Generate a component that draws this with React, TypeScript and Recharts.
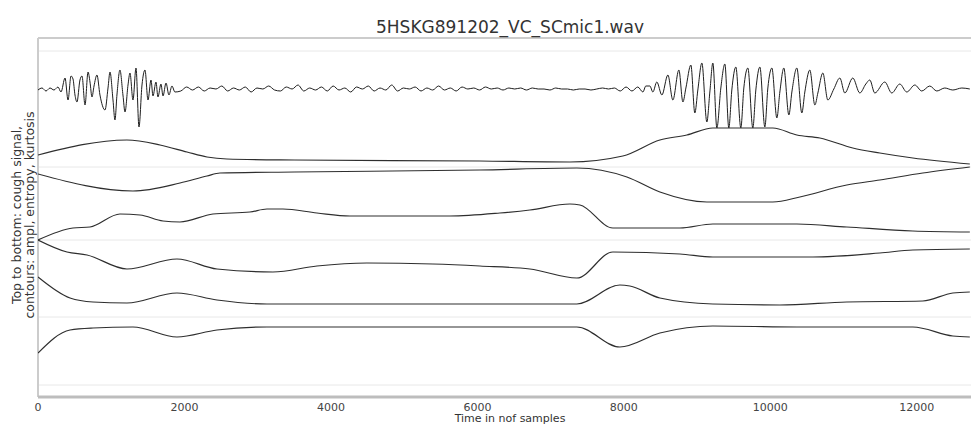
import React from "react";
import { LineChart, Line, XAxis, YAxis, CartesianGrid, ReferenceLine } from "recharts";

// x: time in number of samples, y: stacked display level (signal on top, contours below)
const xTicks = [0, 2000, 4000, 6000, 8000, 10000, 12000];
const gridLevels = [1.2, 8.0, 15.7, 23.0, 34.6];

const coughSignal: [number, number][] = [
  [0, 30.7], [55, 30.9], [109, 30.6], [164, 30.9], [218, 30.7], [273, 31.0], [314, 30.5],
  [369, 31.9], [410, 29.7], [451, 32.1], [478, 31.8], [505, 30.2], [532, 29.5], [573, 31.7],
  [601, 32.1], [642, 29.2], [683, 32.5], [710, 31.5], [737, 30.0], [765, 31.1], [805, 32.2],
  [846, 30.2], [915, 28.7], [956, 30.9], [983, 32.5], [1024, 29.7], [1051, 27.7], [1078, 30.2],
  [1119, 32.7], [1160, 30.2], [1188, 28.5], [1229, 31.2], [1256, 32.4], [1297, 29.7], [1338, 32.9],
  [1379, 27.0], [1420, 31.2], [1461, 32.7], [1502, 29.7], [1543, 31.7], [1570, 30.1], [1611, 31.5],
  [1638, 30.0], [1679, 31.3], [1707, 30.1], [1748, 31.4], [1788, 30.2], [1829, 31.1], [1870, 30.5],
  [1950, 30.6], [2030, 31.0], [2110, 30.7], [2190, 31.0], [2270, 30.6], [2350, 30.9], [2430, 30.8],
  [2510, 31.1], [2590, 30.6], [2670, 30.9], [2750, 30.7], [2830, 31.0], [2910, 30.5], [2990, 30.9],
  [3070, 30.8], [3150, 31.1], [3230, 30.7], [3310, 30.6], [3390, 31.0], [3470, 30.8], [3550, 31.2],
  [3630, 30.6], [3710, 30.9], [3790, 30.7], [3870, 31.0], [3950, 30.6], [4030, 31.1], [4110, 30.7],
  [4190, 30.9], [4270, 30.5], [4350, 31.0], [4430, 30.8], [4510, 31.1], [4590, 30.6], [4670, 30.9],
  [4750, 30.7], [4830, 31.2], [4910, 30.6], [4990, 30.9], [5070, 30.8], [5150, 31.0], [5230, 30.6],
  [5310, 30.9], [5390, 30.7], [5470, 31.1], [5550, 30.7], [5630, 30.9], [5710, 30.6], [5790, 31.0],
  [5870, 30.8], [5950, 30.9], [6030, 30.7], [6110, 31.0], [6190, 30.8], [6270, 30.9], [6350, 30.7],
  [6430, 30.9], [6510, 30.8], [6590, 30.9], [6670, 30.7], [6750, 30.9], [6830, 30.8], [6910, 30.8],
  [6990, 30.7], [7070, 30.9], [7150, 30.8], [7230, 30.8], [7310, 30.7], [7390, 30.8], [7470, 30.8],
  [7550, 30.7], [7630, 30.8], [7710, 30.9], [7790, 30.8], [7870, 30.9], [7950, 30.6], [8030, 31.0],
  [8110, 30.6], [8190, 31.0], [8260, 30.5], [8300, 31.1],
  [8355, 31.1], [8396, 30.5], [8450, 31.5], [8519, 30.2], [8601, 32.2], [8669, 29.7], [8751, 32.7],
  [8806, 29.5], [8847, 30.9], [8915, 33.2], [8969, 28.4], [9010, 30.7], [9065, 33.4], [9133, 27.5],
  [9174, 30.5], [9215, 33.4], [9270, 26.9], [9324, 30.9], [9379, 33.3], [9433, 26.9], [9474, 30.7],
  [9529, 33.0], [9597, 26.9], [9638, 30.9], [9693, 32.9], [9761, 26.9], [9802, 30.7], [9857, 33.0],
  [9925, 27.0], [9966, 30.9], [10021, 32.9], [10089, 27.9], [10130, 30.5], [10184, 32.9], [10253, 28.2],
  [10294, 30.5], [10362, 32.9], [10430, 28.4], [10471, 30.5], [10539, 32.7], [10608, 29.2], [10649, 30.4],
  [10717, 32.4], [10785, 29.7], [10867, 30.8], [10949, 31.9], [11017, 30.4], [11126, 31.9], [11222, 30.4],
  [11304, 31.3], [11358, 31.7], [11426, 30.4], [11563, 31.5], [11658, 30.4], [11768, 31.3], [11863, 30.5],
  [11973, 31.2], [12068, 30.6], [12177, 31.1], [12273, 30.6], [12382, 30.9], [12492, 30.7], [12615, 30.9],
  [12724, 30.8],
];

const amplUpper: [number, number][] = [
  [0, 24.2], [1215, 25.7], [1666, 25.2], [2034, 24.5], [2307, 24.0], [2580, 23.8], [3500, 23.7],
  [6034, 23.6], [7263, 23.5], [7986, 24.1], [8492, 25.7], [8860, 26.2], [9215, 26.9], [10034, 26.9],
  [10362, 26.2], [10676, 25.9], [11126, 24.9], [11495, 24.4], [11946, 23.9], [12724, 23.3],
];
const amplLower: [number, number][] = [
  [0, 22.3], [1297, 20.6], [1939, 21.4], [2307, 22.1], [2485, 22.4], [3500, 22.5], [6034, 22.7],
  [7358, 22.9], [8041, 22.0], [8492, 20.5], [9133, 19.5], [10034, 19.5], [10403, 20.0], [11044, 21.2],
  [11495, 21.7], [12082, 22.4], [12724, 23.0],
];
const entropyUpper: [number, number][] = [
  [0, 15.7], [478, 16.9], [710, 17.0], [1119, 18.3], [1393, 18.2], [1707, 17.6], [1939, 17.5],
  [2389, 18.3], [2894, 18.5], [3126, 18.8], [3345, 18.8], [3809, 18.4], [4259, 18.1], [5625, 18.1],
  [6307, 18.4], [6717, 18.7], [7263, 19.3], [7400, 19.2], [7850, 16.9], [8765, 16.9], [9215, 17.3],
  [10362, 17.3], [11044, 17.0], [11946, 16.6], [12724, 16.5],
];
const entropyLower: [number, number][] = [
  [0, 15.7], [396, 14.5], [669, 14.2], [1215, 12.8], [1898, 13.8], [2444, 12.8], [3208, 12.5],
  [3809, 13.1], [4491, 13.4], [5393, 13.3], [6034, 13.1], [6717, 12.8], [7358, 11.9], [7850, 14.5],
  [8765, 14.3], [9215, 14.0], [10580, 14.0], [11495, 14.4], [11946, 14.7], [12724, 14.8],
];
const kurtosisUpper: [number, number][] = [
  [0, 12.0], [437, 9.9], [751, 9.5], [1215, 9.4], [1898, 10.4], [2444, 9.7], [3126, 9.3],
  [7358, 9.3], [7945, 11.2], [8082, 11.1], [8492, 9.9], [9215, 9.3], [10130, 9.2], [11044, 9.5],
  [12082, 9.6], [12492, 10.4], [12724, 10.5],
];
const kurtosisLower: [number, number][] = [
  [0, 4.4], [437, 6.7], [751, 6.9], [1297, 7.0], [1898, 6.0], [2444, 6.7], [3126, 7.0],
  [7358, 7.0], [7945, 5.0], [8492, 6.4], [9215, 7.1], [10362, 7.0], [11946, 7.0], [12492, 6.1],
  [12724, 6.0],
];

const contours = [amplUpper, amplLower, entropyUpper, entropyLower, kurtosisUpper, kurtosisLower];

const rows = (pts: [number, number][]) => pts.map(([t, v]) => ({ t, v }));

const FONT = "'DejaVu Sans', 'Liberation Sans', sans-serif";

export default function App() {
  return (
    <div
      style={{
        position: "absolute",
        left: 0,
        top: 0,
        width: 971,
        height: 426,
        background: "#fff",
        overflow: "hidden",
        fontFamily: FONT,
      }}
    >
      <LineChart
        width={971}
        height={426}
        margin={{ top: 38, right: 0, bottom: 0, left: 38 }}
        style={{ fontFamily: FONT }}
      >
        <CartesianGrid vertical={false} horizontalValues={gridLevels} stroke="#e8e8e8" />
        <XAxis
          dataKey="t"
          type="number"
          domain={[0, 12740]}
          ticks={xTicks}
          height={29}
          tickLine={false}
          tickSize={4}
          axisLine={{ stroke: "#bdbdbd", strokeWidth: 3 }}
          tick={{ fontSize: 11, fill: "#444" }}
          allowDataOverflow
        />
        <YAxis type="number" domain={[0, 35.9]} hide allowDataOverflow />
        <ReferenceLine y={35.9} stroke="#cccccc" strokeWidth={2} />
        <ReferenceLine x={0} stroke="#cccccc" strokeWidth={2} />
        <Line
          data={rows(coughSignal)}
          dataKey="v"
          type="monotone"
          stroke="#1e1e1e"
          strokeWidth={1}
          dot={false}
          isAnimationActive={false}
        />
        {contours.map((c, i) => (
          <Line
            key={i}
            data={rows(c)}
            dataKey="v"
            type="monotone"
            stroke="#2e2e2e"
            strokeWidth={1.2}
            dot={false}
            isAnimationActive={false}
          />
        ))}
      </LineChart>
      <svg
        width={971}
        height={426}
        style={{ position: "absolute", left: 0, top: 0, pointerEvents: "none" }}
      >
        <text x={510} y={33} textAnchor="middle" fontSize={17} fill="#333" fontFamily={FONT}>
          5HSKG891202_VC_SCmic1.wav
        </text>
        <text x={510} y={422} textAnchor="middle" fontSize={11} fill="#333" fontFamily={FONT}>
          Time in nof samples
        </text>
        <text
          x={21}
          y={215}
          textAnchor="middle"
          fontSize={12.5}
          fill="#333"
          fontFamily={FONT}
          transform="rotate(-90, 21, 215)"
        >
          Top to bottom: cough signal,
        </text>
        <text
          x={34}
          y={215}
          textAnchor="middle"
          fontSize={12.5}
          fill="#333"
          fontFamily={FONT}
          transform="rotate(-90, 34, 215)"
        >
          contours: ampl, entropy, kurtosis
        </text>
      </svg>
    </div>
  );
}
